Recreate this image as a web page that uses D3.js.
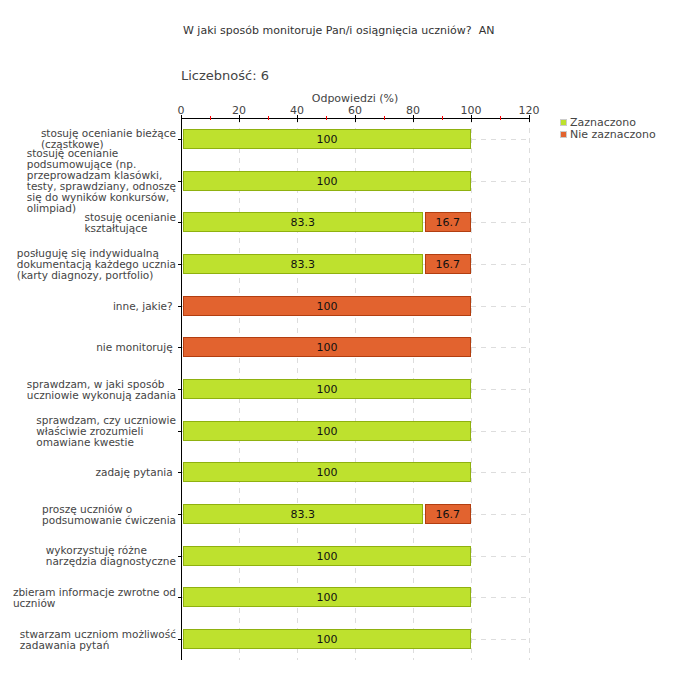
<!DOCTYPE html>
<html><head><meta charset="utf-8">
<script src="https://cdn.jsdelivr.net/npm/d3@7"></script>
<style>
body{margin:0;background:#fff;}
svg text{font-family:"DejaVu Sans",Verdana,sans-serif;}
</style></head>
<body>
<svg id="c" width="680" height="680"></svg>
<script>
const categories = [
  ["stosuję ocenianie bieżące","(cząstkowe)"],
  ["stosuję ocenianie","podsumowujące (np.","przeprowadzam klasówki,","testy, sprawdziany, odnoszę","się do wyników konkursów,","olimpiad)"],
  ["stosuję ocenianie","kształtujące"],
  ["posługuję się indywidualną","dokumentacją każdego ucznia","(karty diagnozy, portfolio)"],
  ["inne, jakie? "],
  ["nie monitoruję "],
  ["sprawdzam, w jaki sposób","uczniowie wykonują zadania"],
  ["sprawdzam, czy uczniowie","właściwie zrozumieli","omawiane kwestie"],
  ["zadaję pytania "],
  ["proszę uczniów o","podsumowanie ćwiczenia"],
  ["wykorzystuję różne","narzędzia diagnostyczne"],
  ["zbieram informacje zwrotne od","uczniów"],
  ["stwarzam uczniom możliwość","zadawania pytań"]
];
const zaznaczono    = [100,100,83.3,83.3,0,0,100,100,100,83.3,100,100,100];
const nieZaznaczono = [0,0,16.7,16.7,100,100,0,0,0,16.7,0,0,0];
const seriesNames = ["Zaznaczono","Nie zaznaczono"];
const majorTicks = [0,20,40,60,80,100,120];
const minorTicks = [10,30,50,70,90,110];
const title = "W jaki sposób monitoruje Pan/i osiągnięcia uczniów?  AN";
const countLabel = "Liczebność: 6";
const axisTitle = "Odpowiedzi (%)";

(function(){
const colors = [{fill:"#bee12e",stroke:"#8fb10f"},{fill:"#e2632f",stroke:"#b23e10"}];
const svg = d3.select("#c");
const pL = 181, pR = 529, pT = 118, pB = 660;
const x = d3.scaleLinear().domain([0,120]).range([pL,pR]);
const y = d3.scaleBand().domain(d3.range(categories.length)).range([pT,pB]).paddingInner(0.52).paddingOuter(0.26);

svg.append("text").attr("x",183).attr("y",34).attr("font-size",11).attr("fill","#333").style("white-space","pre").text(title);
svg.append("text").attr("x",181).attr("y",80).attr("font-size",13).attr("fill","#444").text(countLabel);
svg.append("text").attr("x",(x(0)+x(120))/2).attr("y",102).attr("text-anchor","middle").attr("font-size",11).attr("fill","#444").text(axisTitle);

const g = svg.append("g");
g.selectAll("line.vg").data(majorTicks.slice(1)).join("line").attr("class","vg")
  .attr("x1",d=>Math.round(x(d))+0.5).attr("x2",d=>Math.round(x(d))+0.5).attr("y1",pT).attr("y2",pB)
  .attr("stroke","#ddd").attr("stroke-dasharray","5,5");
g.selectAll("line.hg").data(categories).join("line").attr("class","hg")
  .attr("x1",pL).attr("x2",pR).attr("y1",(d,i)=>Math.round(y(i)+y.bandwidth()/2)+0.5).attr("y2",(d,i)=>Math.round(y(i)+y.bandwidth()/2)+0.5)
  .attr("stroke","#ddd").attr("stroke-dasharray","5,5");

const stack = categories.map((c,i)=>[
  {s:0,x0:0,x1:zaznaczono[i],v:zaznaczono[i]},
  {s:1,x0:zaznaczono[i],x1:zaznaczono[i]+nieZaznaczono[i],v:nieZaznaczono[i]}
].filter(d=>d.v>0));
const rows = svg.append("g").selectAll("g").data(stack).join("g")
  .attr("transform",(d,i)=>`translate(0,${Math.round(y(i))})`);
rows.selectAll("rect").data(d=>d).join("rect")
  .attr("x",d=>Math.round(x(d.x0))+2.5).attr("y",0.5)
  .attr("width",d=>Math.round(x(d.x1))-Math.round(x(d.x0))-3).attr("height",Math.round(y.bandwidth())-1)
  .attr("fill",d=>colors[d.s].fill).attr("stroke",d=>colors[d.s].stroke);
rows.selectAll("text").data(d=>d).join("text")
  .attr("x",d=>(x(d.x0)+x(d.x1))/2+1).attr("y",y.bandwidth()/2+4)
  .attr("text-anchor","middle").attr("font-size",11).attr("fill","#111").text(d=>d.v);

svg.append("line").attr("x1",pL).attr("x2",pR+1).attr("y1",pT+0.5).attr("y2",pT+0.5).attr("stroke","#000");
svg.append("line").attr("x1",pL+0.5).attr("x2",pL+0.5).attr("y1",pT).attr("y2",pB).attr("stroke","#000");
svg.selectAll("line.mt").data(majorTicks).join("line").attr("class","mt")
  .attr("x1",d=>Math.round(x(d))+0.5).attr("x2",d=>Math.round(x(d))+0.5).attr("y1",pT-3).attr("y2",pT+4).attr("stroke","#000");
svg.selectAll("line.nt").data(minorTicks).join("line").attr("class","nt")
  .attr("x1",d=>Math.round(x(d))+0.5).attr("x2",d=>Math.round(x(d))+0.5).attr("y1",pT-2).attr("y2",pT+2).attr("stroke","#f00");
svg.selectAll("text.tl").data(majorTicks).join("text").attr("class","tl")
  .attr("x",d=>x(d)).attr("y",pT-4).attr("text-anchor","middle").attr("font-size",11).attr("fill","#444").text(d=>d);
svg.selectAll("line.yt").data(categories).join("line").attr("class","yt")
  .attr("x1",pL-3).attr("x2",pL).attr("y1",(d,i)=>Math.round(y(i)+y.bandwidth()/2)+0.5).attr("y2",(d,i)=>Math.round(y(i)+y.bandwidth()/2)+0.5).attr("stroke","#000");

const lh = 11;
const lab = svg.append("g");
categories.forEach((lines,i)=>{
  const cy = y(i)+y.bandwidth()/2;
  const t = lab.append("text").attr("font-size",10.5).attr("fill","#444").style("white-space","pre");
  lines.forEach((l,k)=>{
    t.append("tspan").attr("x",0).attr("y",cy + (k-(lines.length-1)/2)*lh + 4).text(l);
  });
  const w = d3.max(t.selectAll("tspan").nodes(),n=>n.getComputedTextLength());
  t.attr("transform",`translate(${176-w},0)`);
});

const lg = svg.append("g");
seriesNames.forEach((n,i)=>{
  lg.append("rect").attr("x",560.5).attr("y",119.5+i*12).attr("width",6).attr("height",6).attr("fill",colors[i].fill).attr("stroke","#ccc");
  lg.append("text").attr("x",570).attr("y",126+i*12).attr("font-size",11).attr("fill","#444").text(n);
});
})();
</script>
</body></html>
